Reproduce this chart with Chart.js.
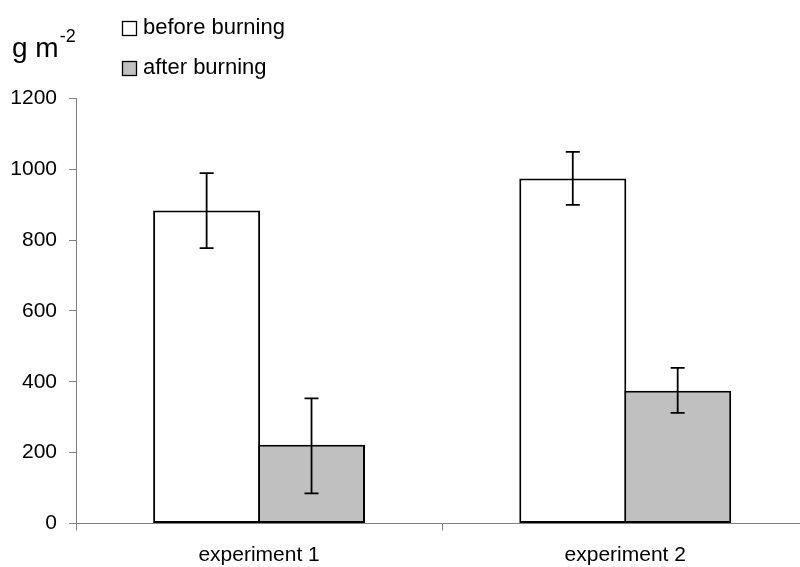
<!DOCTYPE html>
<html>
<head>
<meta charset="utf-8">
<script src="https://cdn.jsdelivr.net/npm/chart.js@4/dist/chart.umd.min.js"></script>
<style>
  html, body { margin: 0; padding: 0; background: #fff; overflow: hidden; }
  #wrap { position: relative; width: 810px; height: 567px; }
</style>
</head>
<body>
<div id="wrap"><canvas id="c"></canvas></div>
<script>
const categories = ["experiment 1", "experiment 2"];
const seriesLabels = ["before burning", "after burning"];
const beforeValues = [883, 974];
const afterValues = [222, 375];
const beforeErrHigh = [989, 1049];
const beforeErrLow = [777, 899];
const afterErrHigh = [353, 439];
const afterErrLow = [85, 312];
const yTicks = [0, 200, 400, 600, 800, 1000, 1200];
const yTitle = "g m";
const yTitleSup = "-2";

const FONT = "'Liberation Sans', Arial, sans-serif";

const errorBarPlugin = {
  id: 'errorBars',
  afterDatasetsDraw(chart) {
    const ctx = chart.ctx;
    const y = chart.scales.y;
    chart.data.datasets.forEach((ds, di) => {
      const meta = chart.getDatasetMeta(di);
      meta.data.forEach((bar, i) => {
        const hi = y.getPixelForValue(ds.errHigh[i]);
        const lo = y.getPixelForValue(ds.errLow[i]);
        const x = bar.x;
        ctx.save();
        ctx.strokeStyle = '#000';
        ctx.lineWidth = 1.8;
        ctx.beginPath();
        ctx.moveTo(x, hi); ctx.lineTo(x, lo);
        ctx.moveTo(x - 7, hi); ctx.lineTo(x + 7, hi);
        ctx.moveTo(x - 7, lo); ctx.lineTo(x + 7, lo);
        ctx.stroke();
        ctx.restore();
      });
    });
  }
};

const legendTitlePlugin = {
  id: 'legendTitle',
  afterDraw(chart) {
    const ctx = chart.ctx;
    ctx.save();
    ctx.fillStyle = '#000';
    ctx.textBaseline = 'alphabetic';
    ctx.textAlign = 'left';
    ctx.font = '28px ' + FONT;
    ctx.fillText(yTitle, 12, 57);
    const w = ctx.measureText(yTitle).width;
    ctx.font = '18px ' + FONT;
    ctx.fillText(yTitleSup, 12 + w + 1, 42);
    chart.data.datasets.forEach((ds, i) => {
      const top = 21 + i * 40;
      ctx.fillStyle = ds.backgroundColor;
      ctx.fillRect(122.5, top + 0.5, 14, 14);
      ctx.strokeStyle = '#000';
      ctx.lineWidth = 1.3;
      ctx.strokeRect(122.5, top + 0.5, 14, 14);
      ctx.fillStyle = '#000';
      ctx.font = '22px ' + FONT;
      ctx.textBaseline = 'middle';
      ctx.fillText(ds.label, 143, top + 7);
    });
    ctx.restore();
  }
};

new Chart(document.getElementById('c'), {
  type: 'bar',
  data: {
    labels: categories,
    datasets: [
      {
        label: seriesLabels[0],
        data: beforeValues,
        errHigh: beforeErrHigh,
        errLow: beforeErrLow,
        backgroundColor: '#ffffff',
        borderColor: '#000000',
        borderWidth: 2,
        borderSkipped: false
      },
      {
        label: seriesLabels[1],
        data: afterValues,
        errHigh: afterErrHigh,
        errLow: afterErrLow,
        backgroundColor: '#c0c0c0',
        borderColor: '#000000',
        borderWidth: 2,
        borderSkipped: false
      }
    ]
  },
  options: {
    responsive: true,
    maintainAspectRatio: false,
    animation: false,
    devicePixelRatio: 1,
    layout: { padding: { top: 98.3, right: 1.7, left: 0, bottom: 0 } },
    plugins: {
      legend: { display: false },
      tooltip: { enabled: false }
    },
    datasets: {
      bar: { categoryPercentage: 0.573, barPercentage: 1.02 }
    },
    scales: {
      x: {
        grid: {
          offset: true,
          drawOnChartArea: false,
          drawTicks: true,
          tickLength: 7,
          tickColor: '#808080',
          lineWidth: 1
        },
        border: { display: true, color: '#808080', width: 1 },
        ticks: {
          color: '#000',
          font: { family: FONT, size: 21 },
          padding: 12,
          maxRotation: 0
        },
        afterFit(scale) { scale.height = 43.5; }
      },
      y: {
        min: 0,
        max: 1200,
        afterBuildTicks(scale) { scale.ticks = yTicks.map(v => ({ value: v })); },
        grid: {
          drawOnChartArea: false,
          drawTicks: true,
          tickLength: 7,
          tickColor: '#808080',
          lineWidth: 1
        },
        border: { display: true, color: '#808080', width: 1 },
        ticks: {
          color: '#000',
          font: { family: FONT, size: 21 },
          padding: 12,
          callback: (v) => String(v)
        },
        afterFit(scale) { scale.width = 76; }
      }
    }
  },
  plugins: [errorBarPlugin, legendTitlePlugin]
});
</script>
</body>
</html>
